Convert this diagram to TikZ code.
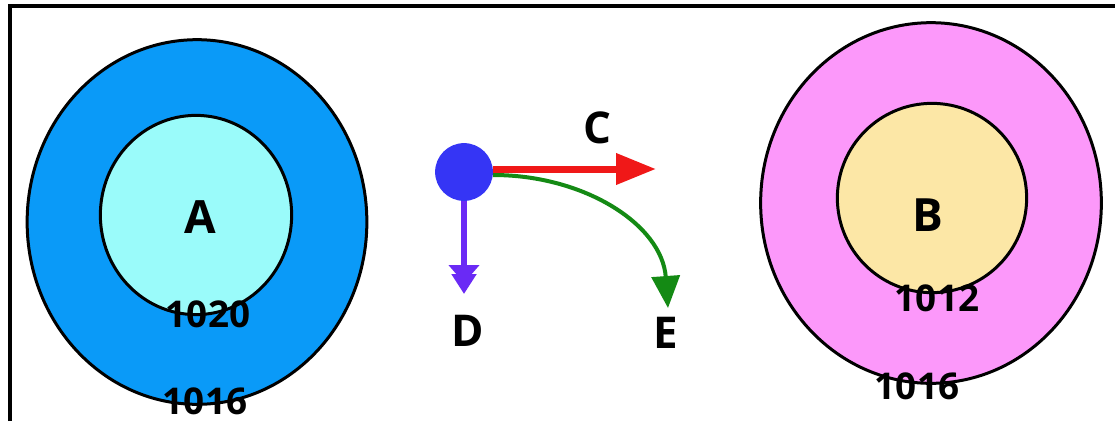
\documentclass[tikz,border=0pt]{standalone}
\usepackage{fontspec}
\setmainfont{Open Sans}
\usetikzlibrary{shapes.geometric,arrows.meta}
\definecolor{outerA}{HTML}{0A9AF8}
\definecolor{innerA}{HTML}{9AFBFA}
\definecolor{outerB}{HTML}{FC98FA}
\definecolor{innerB}{HTML}{FCE7A6}
\definecolor{dotblue}{HTML}{3535F5}
\definecolor{arrred}{HTML}{F01818}
\definecolor{arrgreen}{HTML}{148A14}
\definecolor{arrpurple}{HTML}{6A2AF5}
\begin{document}
\begin{tikzpicture}[x=1bp,y=-1bp,
  ring/.style={ellipse,draw=black,line width=3bp,inner sep=0pt},
  big/.style={font=\fontsize{46}{46}\selectfont\bfseries,inner sep=0pt},
  num/.style={font=\fontsize{37}{37}\selectfont\bfseries,inner sep=0pt},
  lbl/.style={font=\fontsize{44}{44}\selectfont\bfseries,inner sep=0pt}]
\useasboundingbox (0,0) rectangle (1115,421);
\fill[white] (0,0) rectangle (1115,421);
\draw[line width=4bp] (10,421) -- (10,6) -- (1115,6);
% A
\node[ring,fill=outerA,minimum width=341,minimum height=366] (Aout) at (197,222) {};
\node[ring,fill=innerA,minimum width=192,minimum height=200] (Ain) at (196,215) {};
\node[big] (A) at (200,217) {A};
\node[num] (n1020) at (208,314) {1020};
\node[num] (n1016a) at (205,401) {1016};
% B
\node[ring,fill=outerB,minimum width=342,minimum height=362] (Bout) at (931,203) {};
\node[ring,fill=innerB,minimum width=190,minimum height=190] (Bin) at (932,198) {};
\node[big] (B) at (928,215) {B};
\node[num] (n1012) at (937,298) {1012};
\node[num] (n1016b) at (917,386) {1016};
% center
\node[circle,fill=dotblue,minimum size=58,inner sep=0pt] (dot) at (464,172) {};
\coordinate (Cend) at (656,169);
\coordinate (Dend) at (464,294);
\coordinate (Eend) at (668,308);
\draw[arrred,line width=7bp,-{Triangle[length=40bp,width=30bp]}] (dot.east |- Cend) -- (Cend);
\draw[arrgreen,line width=4bp,-{Triangle[length=32bp,width=28bp]}] (dot.east |- 0,175) .. controls (585,175) and (662,225) .. (Eend);
\draw[arrpurple,line width=6bp,-{Triangle[length=18bp,width=30bp,sep=-9bp]Triangle[length=20bp,width=24bp]}] (dot.south) -- (Dend);
\node[lbl] (C) at (597,128) {C};
\node[lbl] (D) at (468,331) {D};
\node[lbl] (E) at (666,333) {E};
\end{tikzpicture}
\end{document}
